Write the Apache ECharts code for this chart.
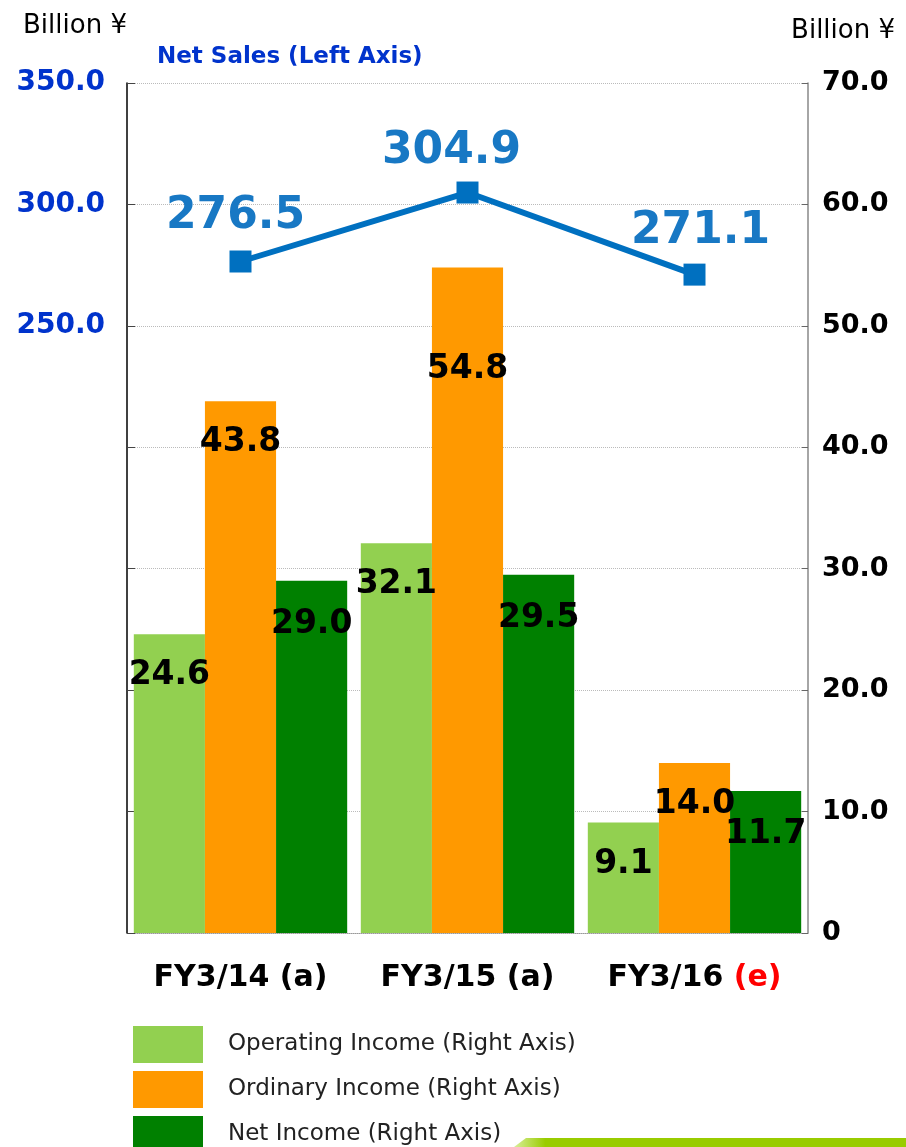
<!DOCTYPE html>
<html>
<head>
<meta charset="utf-8">
<script src="https://cdn.jsdelivr.net/npm/echarts@6/dist/echarts.min.js"></script>
<style>
  html, body { margin: 0; padding: 0; background: #fff; }
  #main { width: 906px; height: 1147px; }
</style>
</head>
<body>
<div id="main"></div>
<script>
// categories and values
const years = ['FY3/14 (a)', 'FY3/15 (a)', 'FY3/16 (e)']
const netSales = [276.5, 304.9, 271.1]
const operatingIncome = [24.6, 32.1, 9.1]
const ordinaryIncome = [43.8, 54.8, 14.0]
const netIncome = [29.0, 29.5, 11.7]

const font = 'DejaVu Sans'
let myChart = echarts.init(document.getElementById('main'))

// label of a bar, sits a bit below the top of the bar
function barLabel(extra) {
  return Object.assign({
    show: true,
    position: 'insideTop',
    offset: [0, 20],
    fontFamily: font,
    fontWeight: 'bold',
    fontSize: 33,
    color: '#000',
    formatter: p => p.value.toFixed(1)
  }, extra || {})
}

const salesOffsets = [[-5, 2], [-16, 6], [6, 4]]

myChart.setOption({
  animation: false,
  title: [
    { text: 'Billion ¥', left: 18, top: 8,
      textStyle: { fontFamily: font, fontSize: 26, fontWeight: 'normal', color: '#000' } },
    { text: 'Billion ¥', right: 6, top: 13,
      textStyle: { fontFamily: font, fontSize: 26, fontWeight: 'normal', color: '#000' } },
    { text: 'Net Sales (Left Axis)', left: 152, top: 41,
      textStyle: { fontFamily: font, fontSize: 23, fontWeight: 'bold', color: '#0033CC' } }
  ],
  legend: {
    orient: 'vertical',
    left: 133,
    top: 1026,
    height: 160,
    padding: 0,
    itemWidth: 70,
    itemHeight: 37,
    itemGap: 8,
    icon: 'rect',
    textStyle: { fontFamily: font, fontSize: 23, color: '#222', padding: [0, 0, 0, 20] },
    data: ['Operating Income (Right Axis)', 'Ordinary Income (Right Axis)', 'Net Income (Right Axis)']
  },
  grid: { left: 127, right: 98, top: 83, bottom: 214 },
  xAxis: {
    type: 'category',
    data: years,
    axisTick: { show: false },
    axisLine: { lineStyle: { color: '#999', type: 'dotted' } },
    axisLabel: {
      interval: 0,
      margin: 30,
      fontFamily: font,
      fontSize: 30,
      fontWeight: 'bold',
      color: '#000',
      formatter: v => {
        let m = v.match(/^(.*) (\(e\))$/)
        return m ? m[1] + ' {e|' + m[2] + '}' : v
      },
      rich: { e: { fontFamily: font, fontSize: 30, fontWeight: 'bold', color: '#FF0000' } }
    }
  },
  yAxis: [
    {
      type: 'value',
      min: 0, max: 350, interval: 50,
      position: 'left',
      axisLine: { show: true, lineStyle: { color: '#000', width: 1.5 } },
      axisTick: { show: true, inside: true, length: 8, lineStyle: { color: '#444' } },
      splitLine: { show: false },
      axisLabel: {
        margin: 22,
        fontFamily: font,
        fontSize: 28,
        fontWeight: 'bold',
        color: '#0033CC',
        formatter: v => v >= 250 ? v.toFixed(1) : ''
      }
    },
    {
      type: 'value',
      min: 0, max: 70, interval: 10,
      position: 'right',
      axisLine: { show: true, lineStyle: { color: '#888', width: 1.5 } },
      axisTick: { show: true, inside: true, length: 6, lineStyle: { color: '#666' } },
      splitLine: { show: true, lineStyle: { color: '#bbb', type: 'dotted' } },
      axisLabel: {
        margin: 14,
        fontFamily: font,
        fontSize: 27,
        fontWeight: 'bold',
        color: '#000',
        formatter: v => v === 0 ? '0' : v.toFixed(1)
      }
    }
  ],
  series: [
    {
      name: 'Operating Income (Right Axis)',
      type: 'bar',
      yAxisIndex: 1,
      barGap: '0%',
      barCategoryGap: '6%',
      itemStyle: { color: '#92D050' },
      label: barLabel(),
      data: operatingIncome
    },
    {
      name: 'Ordinary Income (Right Axis)',
      type: 'bar',
      yAxisIndex: 1,
      barGap: '0%',
      barCategoryGap: '6%',
      itemStyle: { color: '#FF9900' },
      label: barLabel(),
      data: ordinaryIncome.map(v => v > 50 ? { value: v, label: { offset: [0, 80] } } : v)
    },
    {
      name: 'Net Income (Right Axis)',
      type: 'bar',
      yAxisIndex: 1,
      barGap: '0%',
      barCategoryGap: '6%',
      itemStyle: { color: '#008000' },
      label: barLabel({ offset: [0, 22] }),
      data: netIncome
    },
    {
      name: 'Net Sales (Left Axis)',
      type: 'line',
      yAxisIndex: 0,
      z: 5,
      symbol: 'rect',
      symbolSize: 22,
      lineStyle: { color: '#0070C0', width: 6 },
      itemStyle: { color: '#0070C0' },
      label: {
        show: true,
        position: 'top',
        distance: 14,
        fontFamily: font,
        fontSize: 44,
        fontWeight: 'bold',
        color: '#1878C4',
        formatter: p => p.value.toFixed(1)
      },
      data: netSales.map((v, i) => ({ value: v, label: { offset: salesOffsets[i] } }))
    }
  ],
  graphic: [
    {
      type: 'polygon',
      shape: { points: [[526, 1138], [906, 1138], [906, 1147], [514, 1147]] },
      style: {
        fill: new echarts.graphic.LinearGradient(0, 0, 1, 0, [
          { offset: 0, color: '#d8ee99' },
          { offset: 0.08, color: '#99CC00' },
          { offset: 1, color: '#99CC00' }
        ])
      }
    }
  ]
})
</script>
</body>
</html>
